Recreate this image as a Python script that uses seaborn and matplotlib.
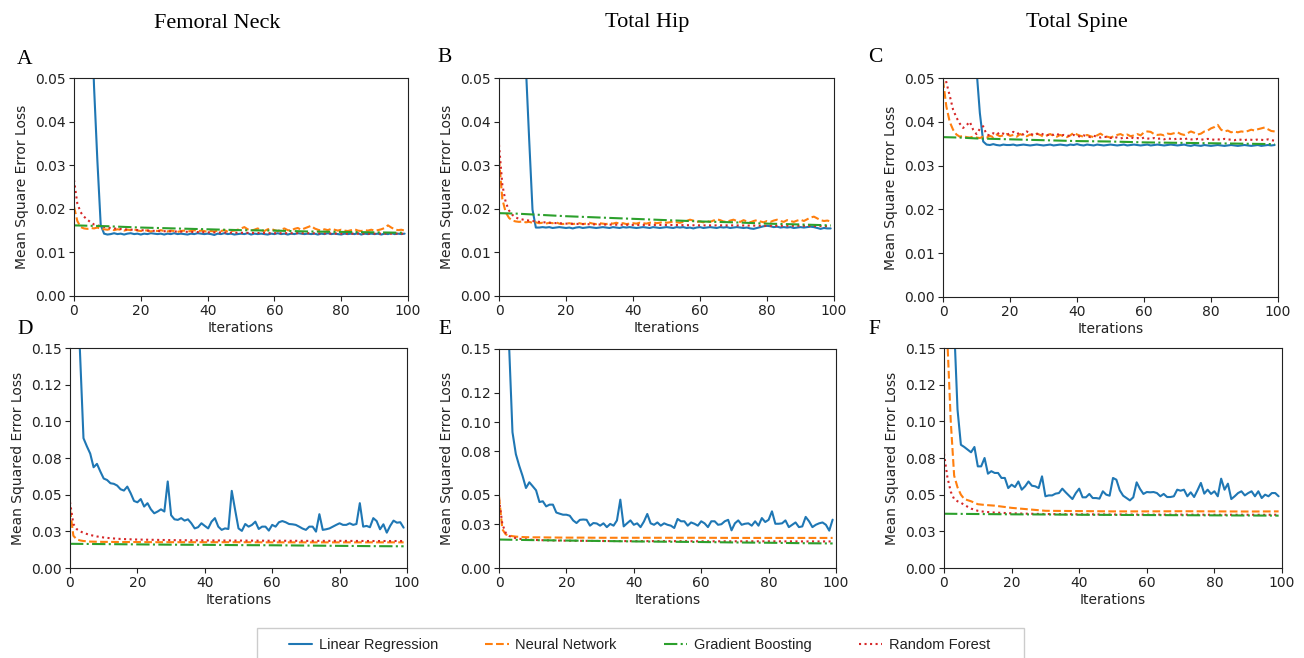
import matplotlib
matplotlib.use("Agg")
import matplotlib.pyplot as plt
from matplotlib.lines import Line2D
from matplotlib.patches import Rectangle
from matplotlib import font_manager
import seaborn as sns

# ---------------- data ----------------
ITER = list(range(100))
GB_X = [0, 5, 10, 20, 30, 40, 50, 60, 70, 80, 90, 99]
SPARSE_X = [0, 1, 2, 3, 4, 5, 6, 8, 10, 12, 15, 20, 25, 30, 40, 50, 60, 70, 80, 90, 99]

MODELS = ["Linear Regression", "Neural Network", "Gradient Boosting", "Random Forest"]
SITES = ["Femoral Neck", "Total Hip", "Total Spine"]
PANEL_LETTERS = ["A", "B", "C", "D", "E", "F"]
YLABEL_TOP = "Mean Square Error Loss"
YLABEL_BOTTOM = "Mean Squared Error Loss"
XLABEL = "Iterations"
XTICKS = [0, 20, 40, 60, 80, 100]
TOP_YTICKS = [0.00, 0.01, 0.02, 0.03, 0.04, 0.05]
TOP_YLABELS = ["0.00", "0.01", "0.02", "0.03", "0.04", "0.05"]
BOTTOM_YTICKS_DF = [0.0, 0.025, 0.05, 0.075, 0.10, 0.125, 0.15]
BOTTOM_YTICKS_E = [0.0, 0.03, 0.05, 0.08, 0.10, 0.12, 0.15]
BOTTOM_YLABELS = ["0.00", "0.03", "0.05", "0.08", "0.10", "0.12", "0.15"]

# Panel A: Femoral Neck, MSE
A_LR = [0.50, 0.30, 0.20, 0.14, 0.10, 0.070, 0.048, 0.031, 0.0163, 0.0143,
        0.0141, 0.0142, 0.0144, 0.0142, 0.0143, 0.0141, 0.0143, 0.0144, 0.0142, 0.0143,
        0.0141, 0.0143, 0.0142, 0.0144, 0.0143, 0.0142, 0.0143, 0.0141, 0.0143, 0.0142,
        0.0144, 0.0142, 0.0143, 0.0142, 0.0141, 0.0143, 0.0142, 0.0144, 0.0143, 0.0142,
        0.0143, 0.0142, 0.0140, 0.0143, 0.0142, 0.0144, 0.0142, 0.0143, 0.0141, 0.0142,
        0.0143, 0.0142, 0.0144, 0.0141, 0.0143, 0.0142, 0.0143, 0.0142, 0.0141, 0.0143,
        0.0142, 0.0144, 0.0142, 0.0143, 0.0141, 0.0143, 0.0142, 0.0144, 0.0143, 0.0142,
        0.0143, 0.0142, 0.0143, 0.0141, 0.0143, 0.0142, 0.0144, 0.0142, 0.0143, 0.0142,
        0.0141, 0.0143, 0.0142, 0.0143, 0.0142, 0.0144, 0.0141, 0.0143, 0.0142, 0.0143,
        0.0142, 0.0143, 0.0141, 0.0143, 0.0142, 0.0144, 0.0142, 0.0143, 0.0142, 0.0143]
A_NN = [0.0205, 0.0172, 0.0158, 0.0155, 0.0154, 0.0156, 0.0155, 0.0157, 0.0154, 0.0153,
        0.0152, 0.0154, 0.0151, 0.0153, 0.0152, 0.0150, 0.0152, 0.0151, 0.0153, 0.0150,
        0.0149, 0.0151, 0.0150, 0.0148, 0.0150, 0.0149, 0.0151, 0.0149, 0.0148, 0.0150,
        0.0149, 0.0147, 0.0149, 0.0150, 0.0148, 0.0149, 0.0151, 0.0148, 0.0150, 0.0149,
        0.0147, 0.0149, 0.0148, 0.0150, 0.0149, 0.0151, 0.0148, 0.0149, 0.0150, 0.0152,
        0.0155, 0.0158, 0.0153, 0.0150, 0.0152, 0.0155, 0.0151, 0.0149, 0.0153, 0.0154,
        0.0151, 0.0149, 0.0152, 0.0155, 0.0151, 0.0150, 0.0154, 0.0156, 0.0152, 0.0155,
        0.0158, 0.0161, 0.0155, 0.0152, 0.0150, 0.0153, 0.0151, 0.0154, 0.0152, 0.0150,
        0.0152, 0.0150, 0.0149, 0.0151, 0.0153, 0.0150, 0.0149, 0.0151, 0.0150, 0.0152,
        0.0150, 0.0151, 0.0153, 0.0156, 0.0162, 0.0157, 0.0153, 0.0151, 0.0152, 0.0150]
A_GB = [0.0162, 0.0161, 0.0160, 0.0157, 0.0155, 0.0153, 0.0151, 0.0150, 0.0148, 0.0147, 0.0146, 0.0145]
A_RF = [0.0266, 0.0212, 0.0192, 0.0182, 0.0175, 0.0169, 0.0164, 0.0160, 0.0157, 0.0155, 0.0153,
        0.0151, 0.0149, 0.0148, 0.0146, 0.0145, 0.0144, 0.0144, 0.0143, 0.0143, 0.0143]

# Panel B: Total Hip, MSE
B_LR = [0.60, 0.40, 0.28, 0.20, 0.15, 0.11, 0.085, 0.068, 0.053, 0.036,
        0.0198, 0.0157, 0.0157, 0.0158, 0.0157, 0.0158, 0.0156, 0.0157, 0.0158, 0.0157,
        0.0156, 0.0157, 0.0155, 0.0157, 0.0158, 0.0156, 0.0157, 0.0158, 0.0157, 0.0156,
        0.0157, 0.0158, 0.0157, 0.0156, 0.0158, 0.0157, 0.0156, 0.0158, 0.0157, 0.0158,
        0.0157, 0.0156, 0.0157, 0.0158, 0.0157, 0.0156, 0.0158, 0.0157, 0.0156, 0.0157,
        0.0158, 0.0157, 0.0156, 0.0158, 0.0157, 0.0158, 0.0156, 0.0157, 0.0155, 0.0157,
        0.0158, 0.0156, 0.0157, 0.0158, 0.0157, 0.0156, 0.0158, 0.0157, 0.0158, 0.0156,
        0.0157, 0.0158, 0.0157, 0.0156, 0.0157, 0.0155, 0.0154, 0.0156, 0.0158, 0.0160,
        0.0161, 0.0160, 0.0158, 0.0159, 0.0157, 0.0158, 0.0157, 0.0158, 0.0156, 0.0157,
        0.0158, 0.0157, 0.0158, 0.0159, 0.0158, 0.0156, 0.0154, 0.0156, 0.0155, 0.0155]
B_NN = [0.0315, 0.0222, 0.0192, 0.0179, 0.0173, 0.0171, 0.0170, 0.0171, 0.0169, 0.0170,
        0.0168, 0.0169, 0.0167, 0.0168, 0.0166, 0.0168, 0.0167, 0.0169, 0.0166, 0.0165,
        0.0166, 0.0167, 0.0165, 0.0166, 0.0167, 0.0165, 0.0166, 0.0168, 0.0166, 0.0165,
        0.0167, 0.0166, 0.0165, 0.0167, 0.0166, 0.0168, 0.0166, 0.0167, 0.0165, 0.0166,
        0.0167, 0.0166, 0.0168, 0.0167, 0.0166, 0.0168, 0.0169, 0.0167, 0.0168, 0.0170,
        0.0168, 0.0169, 0.0171, 0.0169, 0.0168, 0.0170, 0.0172, 0.0175, 0.0173, 0.0170,
        0.0171, 0.0169, 0.0172, 0.0170, 0.0173, 0.0176, 0.0174, 0.0171, 0.0170, 0.0173,
        0.0175, 0.0172, 0.0170, 0.0174, 0.0171, 0.0169, 0.0172, 0.0174, 0.0171, 0.0169,
        0.0172, 0.0170, 0.0173, 0.0175, 0.0172, 0.0170, 0.0174, 0.0172, 0.0170, 0.0173,
        0.0175, 0.0172, 0.0176, 0.0180, 0.0182, 0.0178, 0.0174, 0.0172, 0.0173, 0.0171]
B_GB = [0.0190, 0.0189, 0.0187, 0.0183, 0.0180, 0.0177, 0.0174, 0.0171, 0.0169, 0.0166, 0.0164, 0.0162]
B_RF = [0.0347, 0.0255, 0.0215, 0.0196, 0.0186, 0.0180, 0.0177, 0.0174, 0.0172, 0.0170, 0.0168,
        0.0166, 0.0165, 0.0164, 0.0163, 0.0163, 0.0162, 0.0162, 0.0161, 0.0161, 0.0160]

# Panel C: Total Spine, MSE
C_LR = [0.80, 0.55, 0.40, 0.30, 0.22, 0.16, 0.12, 0.09, 0.072, 0.062,
        0.052, 0.042, 0.0355, 0.0348, 0.0347, 0.0349, 0.0347, 0.0346, 0.0348, 0.0347,
        0.0347, 0.0348, 0.0346, 0.0347, 0.0348, 0.0347, 0.0346, 0.0347, 0.0348, 0.0347,
        0.0346, 0.0347, 0.0348, 0.0346, 0.0347, 0.0348, 0.0347, 0.0346, 0.0348, 0.0347,
        0.0349, 0.0347, 0.0346, 0.0348, 0.0347, 0.0346, 0.0348, 0.0347, 0.0346, 0.0347,
        0.0348, 0.0347, 0.0346, 0.0347, 0.0348, 0.0346, 0.0347, 0.0348, 0.0347, 0.0346,
        0.0347, 0.0348, 0.0346, 0.0347, 0.0348, 0.0347, 0.0346, 0.0347, 0.0348, 0.0347,
        0.0346, 0.0347, 0.0348, 0.0346, 0.0345, 0.0347, 0.0346, 0.0345, 0.0347, 0.0346,
        0.0345, 0.0346, 0.0347, 0.0346, 0.0345, 0.0346, 0.0347, 0.0346, 0.0345, 0.0346,
        0.0347, 0.0346, 0.0345, 0.0346, 0.0347, 0.0345, 0.0346, 0.0347, 0.0346, 0.0347]
C_NN = [0.0495, 0.0435, 0.0400, 0.0382, 0.0371, 0.0366, 0.0368, 0.0365, 0.0364, 0.0366,
        0.0364, 0.0363, 0.0366, 0.0364, 0.0368, 0.0365, 0.0371, 0.0367, 0.0369, 0.0372,
        0.0368, 0.0370, 0.0366, 0.0372, 0.0369, 0.0367, 0.0371, 0.0368, 0.0373, 0.0370,
        0.0366, 0.0369, 0.0372, 0.0368, 0.0366, 0.0370, 0.0367, 0.0365, 0.0369, 0.0375,
        0.0371, 0.0368, 0.0366, 0.0370, 0.0367, 0.0365, 0.0369, 0.0373, 0.0368, 0.0366,
        0.0364, 0.0367, 0.0370, 0.0372, 0.0368, 0.0371, 0.0367, 0.0369, 0.0372, 0.0369,
        0.0376, 0.0378, 0.0377, 0.0372, 0.0370, 0.0371, 0.0369, 0.0373, 0.0372, 0.0374,
        0.0376, 0.0372, 0.0370, 0.0374, 0.0378, 0.0375, 0.0371, 0.0373, 0.0378, 0.0380,
        0.0385, 0.0388, 0.0393, 0.0382, 0.0378, 0.0380, 0.0376, 0.0378, 0.0376, 0.0378,
        0.0377, 0.0379, 0.0382, 0.0380, 0.0383, 0.0385, 0.0387, 0.0383, 0.0379, 0.0378]
C_GB = [0.0365, 0.0364, 0.0362, 0.0360, 0.0358, 0.0356, 0.0355, 0.0353, 0.0352, 0.0351, 0.0350, 0.0349]
C_RF = [0.0530, 0.0490, 0.0460, 0.0428, 0.0410, 0.0396, 0.0386, 0.0392, 0.0400, 0.0382,
        0.0372, 0.0384, 0.0390, 0.0371, 0.0369, 0.0374, 0.0371, 0.0376, 0.0373, 0.0370,
        0.0374, 0.0377, 0.0372, 0.0375, 0.0371, 0.0378, 0.0373, 0.0370, 0.0372, 0.0374,
        0.0371, 0.0369, 0.0372, 0.0370, 0.0373, 0.0368, 0.0370, 0.0369, 0.0367, 0.0370,
        0.0368, 0.0366, 0.0369, 0.0367, 0.0365, 0.0368, 0.0366, 0.0364, 0.0366, 0.0365,
        0.0363, 0.0365, 0.0364, 0.0362, 0.0364, 0.0363, 0.0365, 0.0362, 0.0363, 0.0361,
        0.0364, 0.0362, 0.0361, 0.0363, 0.0361, 0.0362, 0.0360, 0.0362, 0.0361, 0.0360,
        0.0362, 0.0361, 0.0360, 0.0362, 0.0360, 0.0359, 0.0361, 0.0360, 0.0359, 0.0361,
        0.0360, 0.0359, 0.0360, 0.0359, 0.0361, 0.0360, 0.0359, 0.0358, 0.0360, 0.0359,
        0.0358, 0.0360, 0.0359, 0.0358, 0.0360, 0.0359, 0.0358, 0.0360, 0.0358, 0.0357]

# Panel D: Femoral Neck, MSE (wide range)
D_LR = [0.40, 0.28, 0.20, 0.145, 0.0885, 0.0830, 0.0780, 0.0687, 0.0710, 0.0658,
        0.0610, 0.0600, 0.0578, 0.0574, 0.0562, 0.0537, 0.0528, 0.0555, 0.0510, 0.0457,
        0.0448, 0.0470, 0.0419, 0.0442, 0.0400, 0.0373, 0.0385, 0.0400, 0.0385, 0.0590,
        0.0360, 0.0332, 0.0328, 0.0340, 0.0323, 0.0332, 0.0305, 0.0270, 0.0278, 0.0305,
        0.0287, 0.0270, 0.0316, 0.0340, 0.0282, 0.0260, 0.0270, 0.0266, 0.0526, 0.0396,
        0.0270, 0.0253, 0.0300, 0.0282, 0.0294, 0.0316, 0.0266, 0.0282, 0.0282, 0.0255,
        0.0294, 0.0282, 0.0312, 0.0320, 0.0312, 0.0300, 0.0298, 0.0294, 0.0282, 0.0269,
        0.0260, 0.0282, 0.0282, 0.0248, 0.0367, 0.0260, 0.0264, 0.0270, 0.0282, 0.0294,
        0.0305, 0.0294, 0.0294, 0.0305, 0.0294, 0.0300, 0.0442, 0.0282, 0.0287, 0.0278,
        0.0340, 0.0320, 0.0264, 0.0298, 0.0241, 0.0287, 0.0323, 0.0309, 0.0312, 0.0275]
D_NN = [0.0400, 0.0220, 0.0195, 0.0188, 0.0184, 0.0182, 0.0180, 0.0179, 0.0178, 0.0178, 0.0177,
        0.0177, 0.0176, 0.0176, 0.0176, 0.0176, 0.0175, 0.0175, 0.0175, 0.0175, 0.0175]
D_GB = [0.0165, 0.0164, 0.0163, 0.0161, 0.0159, 0.0158, 0.0156, 0.0155, 0.0153, 0.0151, 0.0149, 0.0148]
D_RF = [0.0450, 0.0300, 0.0265, 0.0250, 0.0240, 0.0232, 0.0225, 0.0215, 0.0208, 0.0203, 0.0198,
        0.0194, 0.0192, 0.0190, 0.0188, 0.0187, 0.0186, 0.0185, 0.0185, 0.0184, 0.0184]

# Panel E: Total Hip, MSE (wide range)
E_LR = [0.40, 0.28, 0.20, 0.152, 0.0930, 0.0780, 0.0700, 0.0630, 0.0548, 0.0587,
        0.0560, 0.0532, 0.0452, 0.0457, 0.0422, 0.0434, 0.0434, 0.0380, 0.0372, 0.0365,
        0.0365, 0.0358, 0.0326, 0.0308, 0.0330, 0.0332, 0.0330, 0.0290, 0.0308, 0.0305,
        0.0290, 0.0306, 0.0280, 0.0302, 0.0290, 0.0326, 0.0468, 0.0285, 0.0306, 0.0326,
        0.0296, 0.0306, 0.0280, 0.0318, 0.0370, 0.0306, 0.0296, 0.0312, 0.0290, 0.0306,
        0.0296, 0.0290, 0.0274, 0.0336, 0.0320, 0.0320, 0.0290, 0.0312, 0.0303, 0.0290,
        0.0320, 0.0306, 0.0280, 0.0320, 0.0320, 0.0296, 0.0300, 0.0320, 0.0330, 0.0258,
        0.0306, 0.0326, 0.0296, 0.0303, 0.0306, 0.0290, 0.0320, 0.0290, 0.0342, 0.0315,
        0.0330, 0.0388, 0.0303, 0.0303, 0.0306, 0.0326, 0.0280, 0.0296, 0.0312, 0.0280,
        0.0285, 0.0350, 0.0320, 0.0280, 0.0296, 0.0306, 0.0312, 0.0296, 0.0256, 0.0331]
E_NN = [0.0490, 0.0265, 0.0230, 0.0222, 0.0218, 0.0215, 0.0213, 0.0211, 0.0210, 0.0210, 0.0209,
        0.0208, 0.0208, 0.0207, 0.0207, 0.0207, 0.0207, 0.0206, 0.0206, 0.0206, 0.0206]
E_GB = [0.0195, 0.0193, 0.0191, 0.0188, 0.0185, 0.0182, 0.0180, 0.0178, 0.0175, 0.0173, 0.0170, 0.0168]
E_RF = [0.0470, 0.0300, 0.0240, 0.0220, 0.0210, 0.0205, 0.0200, 0.0196, 0.0193, 0.0191, 0.0189,
        0.0187, 0.0186, 0.0185, 0.0184, 0.0184, 0.0183, 0.0183, 0.0183, 0.0182, 0.0182]

# Panel F: Total Spine, MSE (wide range)
F_LR = [0.50, 0.32, 0.22, 0.165, 0.108, 0.084, 0.0825, 0.0807, 0.0789, 0.0825,
        0.0693, 0.0693, 0.0750, 0.0643, 0.0660, 0.0648, 0.0648, 0.0614, 0.0614, 0.0545,
        0.0568, 0.0552, 0.0590, 0.0534, 0.0557, 0.0590, 0.0561, 0.0557, 0.0545, 0.0625,
        0.0489, 0.0495, 0.0495, 0.0507, 0.0511, 0.0541, 0.0516, 0.0493, 0.0470, 0.0511,
        0.0541, 0.0482, 0.0482, 0.0505, 0.0477, 0.0477, 0.0473, 0.0523, 0.0500, 0.0493,
        0.0614, 0.0602, 0.0530, 0.0493, 0.0477, 0.0461, 0.0482, 0.0584, 0.0539, 0.0505,
        0.0518, 0.0516, 0.0518, 0.0511, 0.0489, 0.0505, 0.0484, 0.0484, 0.0489, 0.0534,
        0.0527, 0.0534, 0.0489, 0.0516, 0.0484, 0.0530, 0.0580, 0.0507, 0.0534, 0.0505,
        0.0523, 0.0489, 0.0609, 0.0534, 0.0575, 0.0470, 0.0489, 0.0511, 0.0523, 0.0495,
        0.0511, 0.0523, 0.0489, 0.0523, 0.0477, 0.0500, 0.0489, 0.0511, 0.0511, 0.0489]
F_NN = [0.300, 0.155, 0.100, 0.063, 0.055, 0.050, 0.047, 0.0455, 0.0435, 0.0430, 0.0425,
        0.0410, 0.0400, 0.0390, 0.0388, 0.0386, 0.0386, 0.0387, 0.0386, 0.0385, 0.0386]
F_GB = [0.0370, 0.0369, 0.0368, 0.0366, 0.0365, 0.0363, 0.0362, 0.0361, 0.0360, 0.0359, 0.0358, 0.0357]
F_RF = [0.0780, 0.0620, 0.0520, 0.0470, 0.0455, 0.0445, 0.0430, 0.0405, 0.0390, 0.0383, 0.0378,
        0.0373, 0.0370, 0.0368, 0.0366, 0.0365, 0.0364, 0.0364, 0.0363, 0.0363, 0.0363]

# ---------------- style ----------------
sns.set_style("ticks")
plt.rcParams["font.family"] = ["DejaVu Sans"]
plt.rcParams.update({
    "axes.edgecolor": "#222222",
    "axes.linewidth": 0.8,
    "xtick.color": "#222222",
    "ytick.color": "#222222",
    "xtick.labelsize": 10,
    "ytick.labelsize": 10,
    "axes.labelsize": 10,
    "text.color": "#222222",
    "axes.labelcolor": "#222222",
})

COLORS = ["#1f77b4", "#ff7f0e", "#2ca02c", "#d62728"]
STYLES = ["-", "--", "-.", ":"]
LW = 1.5

W, H = 1304, 658
fig = plt.figure(figsize=(W / 100, H / 100), dpi=100)


def rect(l, r, t, b):
    return [l / W, 1 - b / H, (r - l) / W, (b - t) / H]


panels = [
    dict(rect=rect(74, 408, 78, 296), xs=[ITER, ITER, GB_X, SPARSE_X], ys=[A_LR, A_NN, A_GB, A_RF],
         ylim=0.05, yt=TOP_YTICKS, yl=TOP_YLABELS, ylab=YLABEL_TOP),
    dict(rect=rect(499, 834, 78, 296), xs=[ITER, ITER, GB_X, SPARSE_X], ys=[B_LR, B_NN, B_GB, B_RF],
         ylim=0.05, yt=TOP_YTICKS, yl=TOP_YLABELS, ylab=YLABEL_TOP),
    dict(rect=rect(943, 1278, 78, 297), xs=[ITER, ITER, GB_X, ITER], ys=[C_LR, C_NN, C_GB, C_RF],
         ylim=0.05, yt=TOP_YTICKS, yl=TOP_YLABELS, ylab=YLABEL_TOP),
    dict(rect=rect(70, 407, 348, 568), xs=[ITER, SPARSE_X, GB_X, SPARSE_X], ys=[D_LR, D_NN, D_GB, D_RF],
         ylim=0.15, yt=BOTTOM_YTICKS_DF, yl=BOTTOM_YLABELS, ylab=YLABEL_BOTTOM),
    dict(rect=rect(499, 836, 349, 568), xs=[ITER, SPARSE_X, GB_X, SPARSE_X], ys=[E_LR, E_NN, E_GB, E_RF],
         ylim=0.15, yt=BOTTOM_YTICKS_E, yl=BOTTOM_YLABELS, ylab=YLABEL_BOTTOM),
    dict(rect=rect(944, 1282, 348, 568), xs=[ITER, SPARSE_X, GB_X, SPARSE_X], ys=[F_LR, F_NN, F_GB, F_RF],
         ylim=0.15, yt=BOTTOM_YTICKS_DF, yl=BOTTOM_YLABELS, ylab=YLABEL_BOTTOM),
]

for p in panels:
    ax = fig.add_axes(p["rect"])
    for i in [0, 1, 3, 2]:
        sns.lineplot(x=p["xs"][i], y=p["ys"][i], ax=ax, color=COLORS[i],
                     linestyle=STYLES[i], linewidth=LW, legend=False)
    ax.set_xlim(0, 100)
    ax.set_ylim(0, p["ylim"])
    ax.set_xticks(XTICKS)
    ax.set_yticks(p["yt"])
    ax.set_yticklabels(p["yl"])
    ax.set_xlabel(XLABEL, labelpad=2)
    ax.set_ylabel(p["ylab"], labelpad=4)
    ax.tick_params(length=3.5, width=0.8, pad=2.5)
    for s in ax.spines.values():
        s.set_visible(True)

serif = ["Liberation Serif", "DejaVu Serif"]
title_x = [217, 647, 1077]
for name, x in zip(SITES, title_x):
    fig.text(x / W, 1 - 23 / H, name, ha="center", va="center", family=serif, size=16, color="black")

letter_pos = [(25, 59), (445, 57), (875, 57), (25, 329), (445, 329), (874, 329)]
for letter, (x, y) in zip(PANEL_LETTERS, letter_pos):
    fig.text(x / W, 1 - y / H, letter, ha="center", va="center", family=serif, size=15.5, color="black")

# legend with its own frame
handles = [Line2D([0], [0], color=c, linestyle=s, linewidth=LW) for c, s in zip(COLORS, STYLES)]
frame = Rectangle((257 / W, 1 - 628 / H - 0.08), (1024 - 257) / W, 0.08,
                  transform=fig.transFigure, facecolor="white", edgecolor="#cccccc", linewidth=1.0)
fig.add_artist(frame)
leg_prop = font_manager.FontProperties(family=["Liberation Sans"], size=10.5, stretch="condensed")
fig.legend(handles, MODELS, ncol=4, loc="center", frameon=False, mode="expand",
           bbox_to_anchor=(289 / W, 1 - 655 / H, (990 - 289) / W, 20 / H),
           borderpad=0, borderaxespad=0, handlelength=1.6, handletextpad=0.45,
           prop=leg_prop)

fig.savefig("out.png", dpi=100)
